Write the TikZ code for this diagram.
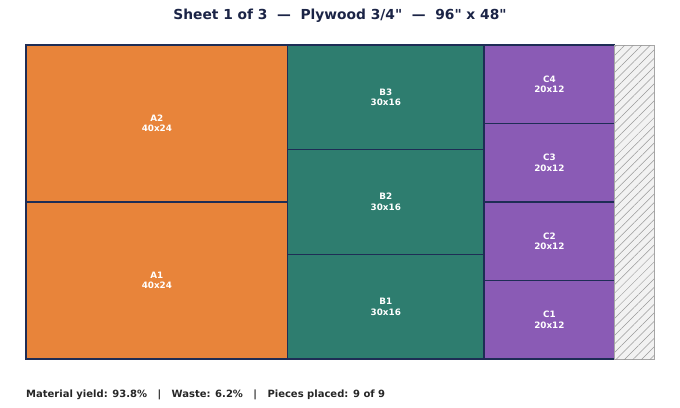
\documentclass[tikz,border=0pt]{standalone}
\usepackage{fontspec}
\setmainfont{DejaVu Sans}[Ligatures=TeXOff]
\usetikzlibrary{patterns.meta}
\definecolor{cutA}{HTML}{E8843A}
\definecolor{cutB}{HTML}{2E7D6F}
\definecolor{cutC}{HTML}{8A5BB5}
\definecolor{edge}{HTML}{1E2D55}
\definecolor{titlecol}{HTML}{1B2446}
\definecolor{scrap}{HTML}{F2F2F2}
\tikzset{
  % one cut piece on the sheet
  piece/.style = {
    draw = edge,
    line width = 1.2pt
  },
  % text inside a piece
  tag/.style = {
    text = white,
    font = \bfseries\fontsize{8.8}{10.5}\selectfont,
    align = center,
    inner sep = 0
  },
  % leftover strip
  waste/.style = {
    draw = gray!70,
    line width = 1pt,
    fill = scrap,
    postaction = {
      pattern = {Lines[angle=45, distance=6pt, line width=0.5pt]},
      pattern color = gray!80
    }
  }
}

\begin{document}
\begin{tikzpicture}
    \useasboundingbox (0,0) rectangle (680pt,-407pt);

    \node[font=\bfseries\fontsize{13.8}{16}\selectfont, text=titlecol] (title)
      at (340pt,-16pt) {Sheet 1 of 3 \ — \ Plywood 3/4" \ — \ 96" x 48"};

    \begin{scope}[shift={(26pt,-45pt)}, x=6.5417pt, y=-6.5417pt]
      % column A
      \draw[piece, fill=cutA] (0,0) rectangle node[tag] (A2) {A2\\40x24} (40,24);
      \draw[piece, fill=cutA] (0,24) rectangle node[tag] (A1) {A1\\40x24} (40,48);

      % column B
      \draw[piece, fill=cutB] (40,0) rectangle node[tag] (B3) {B3\\30x16} (70,16);
      \draw[piece, fill=cutB] (40,16) rectangle node[tag] (B2) {B2\\30x16} (70,32);
      \draw[piece, fill=cutB] (40,32) rectangle node[tag] (B1) {B1\\30x16} (70,48);

      % column C
      \draw[piece, fill=cutC] (70,0) rectangle node[tag] (C4) {C4\\20x12} (90,12);
      \draw[piece, fill=cutC] (70,12) rectangle node[tag] (C3) {C3\\20x12} (90,24);
      \draw[piece, fill=cutC] (70,24) rectangle node[tag] (C2) {C2\\20x12} (90,36);
      \draw[piece, fill=cutC] (70,36) rectangle node[tag] (C1) {C1\\20x12} (90,48);

      % offcut
      \draw[waste] (90,0) rectangle (96,48);
    \end{scope}

    \node[anchor=west, inner sep=0, font=\bfseries\fontsize{10}{12}\selectfont, text=black!85] (stats)
      at (26pt,-395pt) {Material yield: 93.8\% \ \ | \ \ Waste: 6.2\% \ \ | \ \ Pieces placed: 9 of 9};
\end{tikzpicture}
\end{document}
